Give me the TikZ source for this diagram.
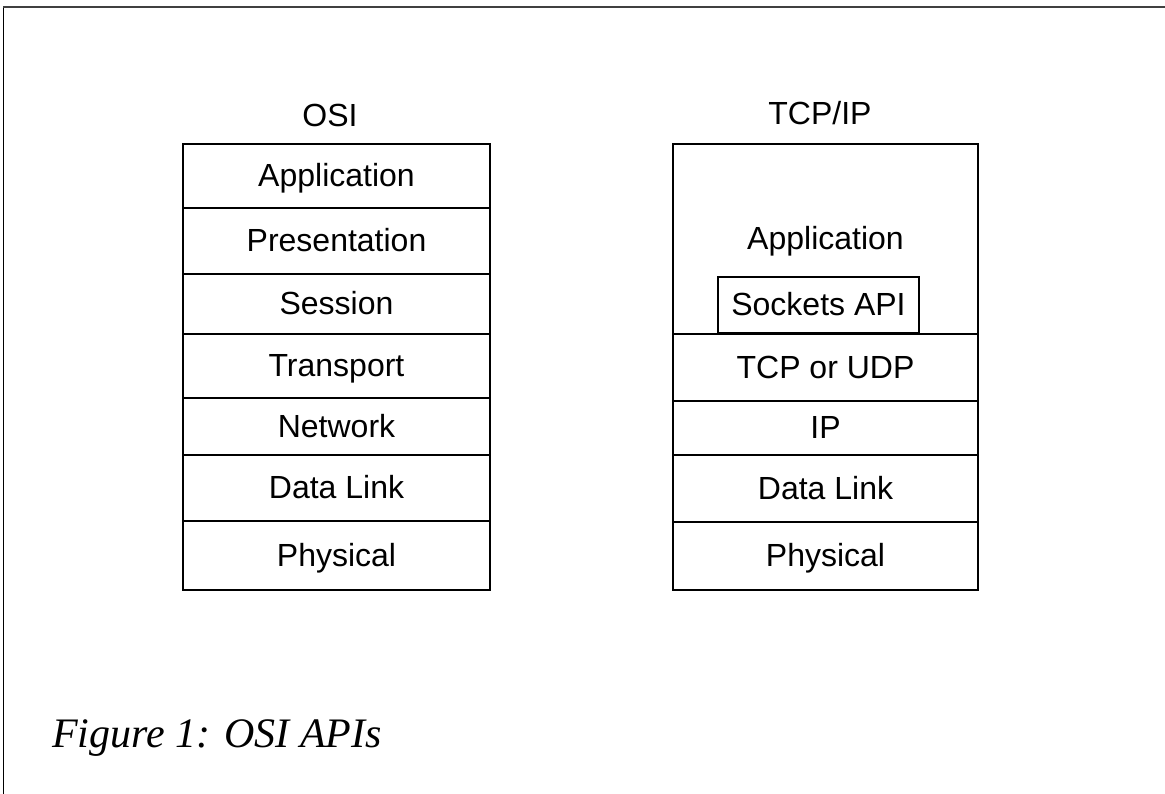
\documentclass[tikz,border=0pt]{standalone}
\usepackage{fontspec}
\setmainfont{Liberation Serif}
\newfontfamily\arialfont{Liberation Sans}

\begin{document}
\begin{tikzpicture}[x=1pt,y=-1pt,
	layer/.style={draw,line width=2pt,inner sep=0pt,minimum width=307pt,
		text height=23pt,text depth=2pt,
		font=\arialfont\fontsize{32}{38}\selectfont},
	stacktitle/.style={anchor=base,font=\arialfont\fontsize{32}{38}\selectfont}]
	\useasboundingbox (0,0) rectangle (1165,794);
	% page frame
	\coordinate (F1) at (3,794);
	\coordinate (F2) at (3,7);
	\coordinate (F3) at (1165,7);
	\draw[line width=1pt] (F1)--(F2);
	\draw[line width=2.5pt,black!75] (F2)--(F3);
	% OSI stack
	\node[stacktitle] (osi) at (330,127) {OSI};
	\node[layer,minimum height=64pt] (oApp) at (336.5,176) {Application};
	\node[layer,minimum height=66pt] (oPres) at (336.5,241) {Presentation};
	\node[layer,minimum height=60pt] (oSess) at (336.5,304) {Session};
	\node[layer,minimum height=64pt] (oTrans) at (336.5,366) {Transport};
	\node[layer,minimum height=57pt] (oNet) at (336.5,426.5) {Network};
	\node[layer,minimum height=66pt] (oLink) at (336.5,488) {Data Link};
	\node[layer,minimum height=69pt] (oPhys) at (336.5,555.5) {Physical};
	% TCP/IP stack
	\begin{scope}[layer/.append style={minimum width=305pt}]
		\node[stacktitle] (tcpip) at (820,125) {TCP/IP};
		\node[layer,minimum height=190pt] (tApp) at (825.5,239) {Application};
		\node[layer,minimum height=67pt] (tTrans) at (825.5,367.5) {TCP or UDP};
		\node[layer,minimum height=54pt] (tNet) at (825.5,428) {IP};
		\node[layer,minimum height=67pt] (tLink) at (825.5,488.5) {Data Link};
		\node[layer,minimum height=68pt] (tPhys) at (825.5,556) {Physical};
		\node[layer,fill=white,minimum width=201pt,minimum height=56pt] (sock) at (818.5,305) {Sockets API};
	\end{scope}
	% caption
	\node[anchor=base west,font=\itshape\fontsize{42}{50}\selectfont,inner sep=0pt] (cap) at (52,747) {Figure 1: OSI APIs};
\end{tikzpicture}
\end{document}
